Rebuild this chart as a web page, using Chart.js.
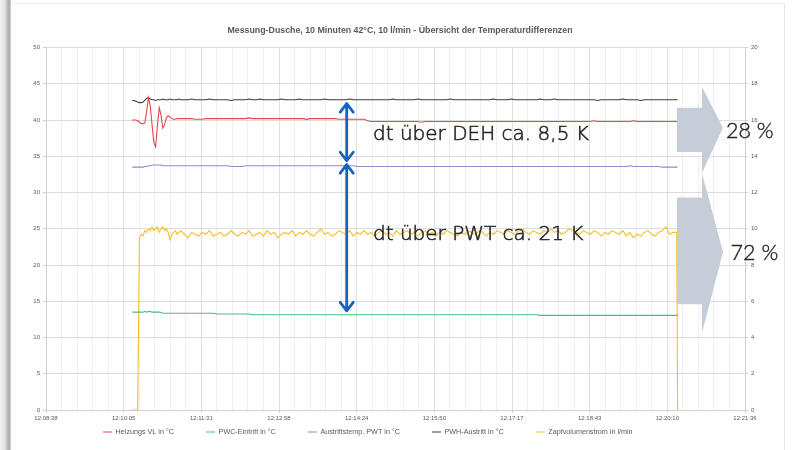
<!DOCTYPE html>
<html><head><meta charset="utf-8">
<script src="https://cdn.jsdelivr.net/npm/chart.js@4.4.1/dist/chart.umd.min.js"></script>
<style>
html,body{margin:0;padding:0;background:#fff;}
#wrap{position:relative;width:800px;height:450px;overflow:hidden;background:#fff;}
#shade{position:absolute;left:0;top:0;width:11px;height:450px;background:linear-gradient(to right,#f2f2f2 0%,#e0e0e0 45%,#a8a8a8 82%,#d6d6d6 100%);}
#frame{position:absolute;left:11px;top:3px;width:773px;height:460px;border-top:1px solid #ededed;border-right:1px solid #e3e3e3;}
canvas{position:absolute;left:0;top:0;}
</style></head><body>
<div id="wrap"><div id="shade"></div><div id="frame"></div><canvas id="c" width="800" height="450"></canvas></div>
<script>
// ---- data (seconds after 12:08:38) ----
const X_MAX = 778; // 12:21:36
const tickLabels = ['12:08:38','12:10:05','12:11:31','12:12:58','12:14:24','12:15:50','12:17:17','12:18:43','12:20:10','12:21:36'];
const seriesNames = ['Heizungs VL in °C','PWC-Eintritt in °C','Austrittstemp. PWT in °C','PWH-Austritt in °C','Zapfvolumenstrom in l/min'];

const timeSec = [96,98,100,102,104,106,108,110,112,114,116,118,120,122,124,126,128,130,132,134,136,138,140,142,144,146,148,150,
154,158,162,166,170,174,178,182,186,190,
194,198,202,206,210,214,218,222,226,230,
234,238,242,246,250,254,258,262,266,270,
274,278,282,286,290,294,298,302,306,310,
314,318,322,326,330,334,338,342,346,350,
354,358,362,366,370,374,378,382,386,390,
394,398,402,406,410,414,418,422,426,430,
434,438,442,446,450,454,458,462,466,470,
474,478,482,486,490,494,498,502,506,510,
514,518,522,526,530,534,538,542,546,550,
554,558,562,566,570,574,578,582,586,590,
594,598,602,606,610,614,618,622,626,630,
634,638,642,646,650,654,658,662,666,670,
674,678,682,686,690,694,698,702,703];

const heizungVL = [40.0,40.0,40.0,39.9,39.7,39.5,39.5,39.6,41.2,43.1,42.0,39.4,36.9,36.3,39.2,41.7,40.7,38.9,39.4,40.3,40.6,40.4,40.2,40.1,40.1,40.2,40.2,40.2,
40.2,40.2,40.2,40.1,40.1,40.1,40.2,40.2,40.2,40.2,
40.2,40.2,40.2,40.2,40.2,40.2,40.2,40.2,40.3,40.2,
40.2,40.2,40.2,40.2,40.2,40.2,40.2,40.2,40.2,40.2,
40.2,40.2,40.2,40.2,40.1,40.2,40.2,40.2,40.2,40.2,
40.2,40.2,40.2,40.1,40.1,40.1,40.1,40.1,40.1,40.1,
40.1,39.9,39.8,39.8,39.8,39.8,39.8,39.8,39.8,39.8,
39.8,39.8,39.8,39.8,39.8,39.8,39.7,39.8,39.8,39.8,
39.8,39.8,39.8,39.8,39.8,39.8,39.8,39.8,39.8,39.8,
39.8,39.8,39.8,39.8,39.8,39.8,39.8,39.8,39.8,39.8,
39.8,39.8,39.8,39.8,39.8,39.8,39.8,39.8,39.8,39.8,
39.8,39.8,39.8,39.8,39.8,39.8,39.8,39.8,39.8,39.8,
39.8,39.8,39.8,39.8,39.9,39.8,39.8,39.8,39.8,39.8,
39.8,39.8,39.8,39.8,39.8,39.9,39.8,39.8,39.8,39.8,
39.8,39.8,39.8,39.8,39.8,39.8,39.8,39.8,39.8];

const pwcEintritt = [13.5,13.5,13.5,13.5,13.5,13.5,13.5,13.6,13.5,13.6,13.6,13.5,13.5,13.5,13.5,13.5,13.45,13.35,13.35,13.35,13.35,13.35,13.35,13.35,13.35,13.35,13.35,13.35,
13.35,13.35,13.35,13.35,13.35,13.35,13.35,13.35,13.35,13.25,
13.25,13.25,13.25,13.25,13.25,13.25,13.25,13.25,13.25,13.15,
13.15,13.15,13.15,13.15,13.15,13.15,13.15,13.15,13.15,13.15,
13.15,13.15,13.15,13.15,13.15,13.15,13.15,13.15,13.15,13.15,
13.15,13.15,13.15,13.15,13.15,13.15,13.15,13.15,13.15,13.15,
13.15,13.15,13.15,13.15,13.15,13.15,13.15,13.15,13.15,13.15,
13.15,13.15,13.15,13.15,13.15,13.15,13.15,13.15,13.15,13.15,
13.15,13.15,13.15,13.15,13.15,13.15,13.15,13.15,13.15,13.15,
13.15,13.15,13.15,13.15,13.15,13.15,13.15,13.15,13.15,13.15,
13.15,13.15,13.15,13.15,13.15,13.15,13.15,13.15,13.15,13.05,
13.05,13.05,13.05,13.05,13.05,13.05,13.05,13.05,13.05,13.05,
13.05,13.05,13.05,13.05,13.05,13.05,13.05,13.05,13.05,13.05,
13.05,13.05,13.05,13.05,13.05,13.05,13.05,13.05,13.05,13.05,
13.05,13.05,13.05,13.05,13.05,13.05,13.05,13.05,13.05];

const austrittPWT = [33.5,33.5,33.5,33.5,33.5,33.5,33.5,33.6,33.6,33.7,33.7,33.8,33.8,33.8,33.8,33.8,33.8,33.7,33.7,33.7,33.7,33.7,33.7,33.7,33.7,33.7,33.7,33.7,
33.7,33.7,33.7,33.7,33.7,33.7,33.7,33.7,33.7,33.7,
33.7,33.7,33.7,33.6,33.6,33.6,33.6,33.7,33.7,33.7,
33.7,33.7,33.7,33.7,33.7,33.7,33.7,33.7,33.7,33.7,
33.7,33.7,33.7,33.7,33.7,33.7,33.7,33.7,33.7,33.7,
33.7,33.7,33.7,33.7,33.7,33.7,33.7,33.7,33.6,33.6,
33.6,33.6,33.6,33.6,33.6,33.6,33.6,33.6,33.6,33.6,
33.6,33.6,33.6,33.6,33.6,33.6,33.6,33.6,33.6,33.6,
33.6,33.6,33.6,33.6,33.6,33.6,33.6,33.6,33.6,33.6,
33.6,33.6,33.6,33.6,33.6,33.6,33.6,33.6,33.6,33.6,
33.6,33.6,33.6,33.6,33.6,33.6,33.6,33.6,33.6,33.6,
33.6,33.6,33.6,33.6,33.6,33.6,33.6,33.6,33.6,33.6,
33.6,33.6,33.6,33.6,33.6,33.6,33.6,33.6,33.6,33.6,
33.6,33.6,33.6,33.6,33.7,33.6,33.6,33.6,33.6,33.6,
33.6,33.6,33.6,33.5,33.5,33.5,33.5,33.5,33.5];

const pwhAustritt = [42.7,42.7,42.6,42.5,42.4,42.4,42.5,42.7,43.0,43.1,42.9,42.8,42.8,42.7,42.8,42.8,42.8,42.9,42.8,42.8,42.8,42.9,42.8,42.8,42.8,42.8,42.9,42.8,
42.8,42.8,42.9,42.8,42.8,42.8,42.8,42.9,42.8,42.8,
42.8,42.8,42.8,42.7,42.8,42.8,42.8,42.8,42.9,42.8,
42.8,42.9,42.8,42.8,42.8,42.8,42.8,42.9,42.8,42.8,
42.8,42.8,42.9,42.8,42.8,42.8,42.8,42.8,42.8,42.9,
42.8,42.8,42.8,42.8,42.8,42.8,42.9,42.8,42.8,42.8,
42.8,42.8,42.8,42.8,42.8,42.8,42.8,42.8,42.9,42.8,
42.8,42.8,42.8,42.8,42.8,42.9,42.8,42.8,42.8,42.8,
42.8,42.8,42.8,42.8,42.9,42.8,42.8,42.8,42.8,42.8,
42.8,42.8,42.8,42.8,42.8,42.8,42.9,42.8,42.8,42.8,
42.8,42.9,42.8,42.8,42.8,42.8,42.8,42.8,42.8,42.9,
42.8,42.8,42.8,42.9,42.8,42.8,42.8,42.8,42.8,42.8,
42.8,42.8,42.8,42.8,42.8,42.7,42.8,42.8,42.8,42.8,
42.8,42.8,42.9,42.8,42.8,42.8,42.8,42.7,42.8,42.8,
42.8,42.8,42.8,42.8,42.8,42.8,42.8,42.8,42.8];

const zapfVolumen = [0,0,0,0,9.5,9.7,9.6,9.9,9.8,10.0,9.9,10.1,9.9,10.0,10.1,9.8,10.0,10.1,9.9,10.0,9.8,9.4,9.7,9.8,9.9,9.7,9.8,9.9,
9.7,9.5,9.8,9.7,9.6,9.8,9.7,9.9,9.6,9.7,
9.8,9.6,9.7,9.9,9.7,9.6,9.8,9.7,9.9,9.6,
9.7,9.8,9.6,9.9,9.7,9.8,9.5,9.7,9.8,9.7,
9.9,9.6,9.8,9.7,9.9,9.7,9.6,9.8,10.0,9.7,
9.8,9.6,9.7,9.9,9.8,9.7,9.9,9.6,9.8,9.7,
9.9,9.7,9.8,9.6,9.8,9.9,9.7,9.8,9.6,9.9,
9.7,9.8,9.9,9.7,9.8,9.6,9.8,9.9,9.7,9.8,
9.6,9.8,9.7,9.9,9.8,9.7,9.6,9.8,9.7,9.9,
9.8,9.7,9.9,9.8,9.6,9.8,9.7,9.9,9.8,9.7,
9.9,9.8,9.7,9.9,10.0,9.8,9.7,9.9,9.8,9.7,
9.9,9.8,10.0,9.8,9.9,9.7,9.8,10.0,9.9,9.8,
9.7,9.9,9.8,9.7,9.9,9.8,9.6,9.8,9.7,9.9,
9.8,9.7,9.9,9.6,9.8,9.5,9.7,9.6,9.8,9.9,
9.7,9.6,9.8,9.9,10.1,9.7,9.8,9.8,0];

const seriesColors = ['#e2474c','#4cbc8c','#9a84c4','#3c3c3c','#f2c12c'];

// annotation values (time in s, temperatures in °C on left axis)
const dtArrowTime = 334.7;
const dtDEH = {top: 42.4, bottom: 34.25, label: 'dt über DEH ca. 8,5 K', labelTime: 364, labelY: 38.0};
const dtPWT = {top: 33.98, bottom: 13.54, label: 'dt über PWT ca. 21 K', labelTime: 364, labelY: 24.2};
const shareArrows = [
  {t0: 702.3, t1: 730.1, t2: 753.5, rTop: 41.7, rBot: 35.6, hTop: 44.6, tip: 38.95, hBot: 32.7, label: '28 %', labelTime: 756.9, labelY: 38.5},
  {t0: 702.3, t1: 730.1, t2: 753.5, rTop: 29.3, rBot: 14.6, hTop: 32.7, tip: 21.8, hBot: 10.6, label: '72 %', labelTime: 762.0, labelY: 21.7}
];

const zip = (vals) => timeSec.map((t, i) => ({x: t, y: vals[i]})).filter(p => p.y !== undefined);

const MINOR = 5;
const annotPlugin = {
  id: 'annot',
  afterLayout(chart) {
    const lg = chart.legend;
    if (!lg || !lg.lineWidths) return;
    const pad = lg.options.labels.padding;
    const curStart = (lg.left + pad + lg.right - lg.lineWidths[0]) / 2;
    const dx = 103 - curStart;
    lg.left += dx; lg.right += dx;
    const fs = lg.options.labels.font.size;
    const newTop = 432 - pad - fs / 2;
    lg.top = newTop; lg.bottom = newTop + pad + fs + 12;
  },
  afterDatasetsDraw(chart) {
    const {ctx, scales: {x, y}} = chart;
    const px = v => x.getPixelForValue(v), py = v => y.getPixelForValue(v);
    ctx.save();
    // grey block arrows
    ctx.fillStyle = '#c5cdd8';
    shareArrows.forEach(a => {
      ctx.beginPath();
      ctx.moveTo(px(a.t0), py(a.rTop));
      ctx.lineTo(px(a.t1), py(a.rTop));
      ctx.lineTo(px(a.t1), py(a.hTop));
      ctx.lineTo(px(a.t2), py(a.tip));
      ctx.lineTo(px(a.t1), py(a.hBot));
      ctx.lineTo(px(a.t1), py(a.rBot));
      ctx.lineTo(px(a.t0), py(a.rBot));
      ctx.closePath();
      ctx.fill();
    });
    // blue double arrows
    ctx.strokeStyle = '#1764c0';
    ctx.lineWidth = 2.8;
    ctx.lineCap = 'round'; ctx.lineJoin = 'round';
    [dtDEH, dtPWT].forEach(d => {
      const ax = px(dtArrowTime), y0 = py(d.top), y1 = py(d.bottom);
      ctx.beginPath();
      ctx.moveTo(ax, y0 + 1); ctx.lineTo(ax, y1 - 1);
      ctx.moveTo(ax - 6.5, y0 + 9.5); ctx.lineTo(ax, y0 + 1); ctx.lineTo(ax + 6.5, y0 + 9.5);
      ctx.moveTo(ax - 6.5, y1 - 9.5); ctx.lineTo(ax, y1 - 1); ctx.lineTo(ax + 6.5, y1 - 9.5);
      ctx.stroke();
    });
    // texts
    ctx.fillStyle = '#262626';
    ctx.strokeStyle = '#262626';
    ctx.lineWidth = 0.55;
    ctx.lineJoin = 'miter';
    ctx.textBaseline = 'middle'; ctx.textAlign = 'left';
    ctx.font = '200 20px "DejaVu Sans"';
    [dtDEH, dtPWT].forEach(d => { ctx.fillText(d.label, px(d.labelTime), py(d.labelY)); ctx.strokeText(d.label, px(d.labelTime), py(d.labelY)); });
    ctx.font = '300 21.5px Lato';
    ctx.lineWidth = 0.4;
    shareArrows.forEach(a => { ctx.fillText(a.label, px(a.labelTime), py(a.labelY)); ctx.strokeText(a.label, px(a.labelTime), py(a.labelY)); });
    ctx.restore();
  }
};

Chart.defaults.font.family = '"Liberation Sans", Arial, sans-serif';

const mk = (i, vals, axis) => ({
  label: seriesNames[i], data: zip(vals), yAxisID: axis,
  borderColor: seriesColors[i], backgroundColor: seriesColors[i],
  borderWidth: 1.1, pointRadius: 0, tension: 0
});

new Chart(document.getElementById('c'), {
  type: 'line',
  data: {
    datasets: [
      mk(0, heizungVL, 'y'),
      mk(1, pwcEintritt, 'y'),
      mk(2, austrittPWT, 'y'),
      mk(3, pwhAustritt, 'y'),
      mk(4, zapfVolumen, 'y1')
    ]
  },
  options: {
    responsive: false, animation: false, devicePixelRatio: 1,
    layout: {padding: {left: 0, right: 0, top: 0, bottom: 6}},
    plugins: {
      title: {display: true, text: 'Messung-Dusche, 10 Minuten 42°C, 10 l/min - Übersicht der Temperaturdifferenzen',
        color: '#595959', font: {size: 8.8, weight: 'bold'}, padding: {top: 25, bottom: 12}},
      legend: {position: 'bottom', maxHeight: 20,
        labels: {color: '#595959', font: {size: 7.2}, usePointStyle: true, pointStyle: 'line', pointStyleWidth: 9, padding: 32}},
      tooltip: {enabled: false}
    },
    scales: {
      x: {type: 'linear', min: 0, max: X_MAX,
        afterBuildTicks: s => { const n = (tickLabels.length - 1) * MINOR; s.ticks = []; for (let k = 0; k <= n; k++) s.ticks.push({value: k * X_MAX / n}); },
        afterFit: s => { s.height = 14; },
        ticks: {autoSkip: false, maxRotation: 0, minRotation: 0, color: '#595959', font: {size: 6}, padding: 2,
          callback: (v, i) => i % MINOR === 0 ? tickLabels[i / MINOR] : ''},
        grid: {color: c => (c.index % MINOR === 0 ? '#e0e0e0' : '#f0f0f0'), tickLength: 3,
          tickColor: c => (c.index % MINOR === 0 ? '#d0d0d0' : 'rgba(0,0,0,0)')},
        border: {color: '#d0d0d0'}
      },
      y: {position: 'left', min: 0, max: 50,
        afterFit: s => { s.width = 46; },
        ticks: {stepSize: 5, color: '#595959', font: {size: 6}, padding: 3},
        grid: {color: '#dcdcdc', tickLength: 3, tickColor: '#d0d0d0'},
        border: {color: '#d0d0d0'}
      },
      y1: {position: 'right', min: 0, max: 20,
        afterFit: s => { s.width = 55; },
        ticks: {stepSize: 2, color: '#595959', font: {size: 6}, padding: 3},
        grid: {drawOnChartArea: false, tickLength: 3, tickColor: '#d0d0d0'},
        border: {color: '#d0d0d0'}
      }
    }
  },
  plugins: [annotPlugin]
});
</script>
</body></html>
